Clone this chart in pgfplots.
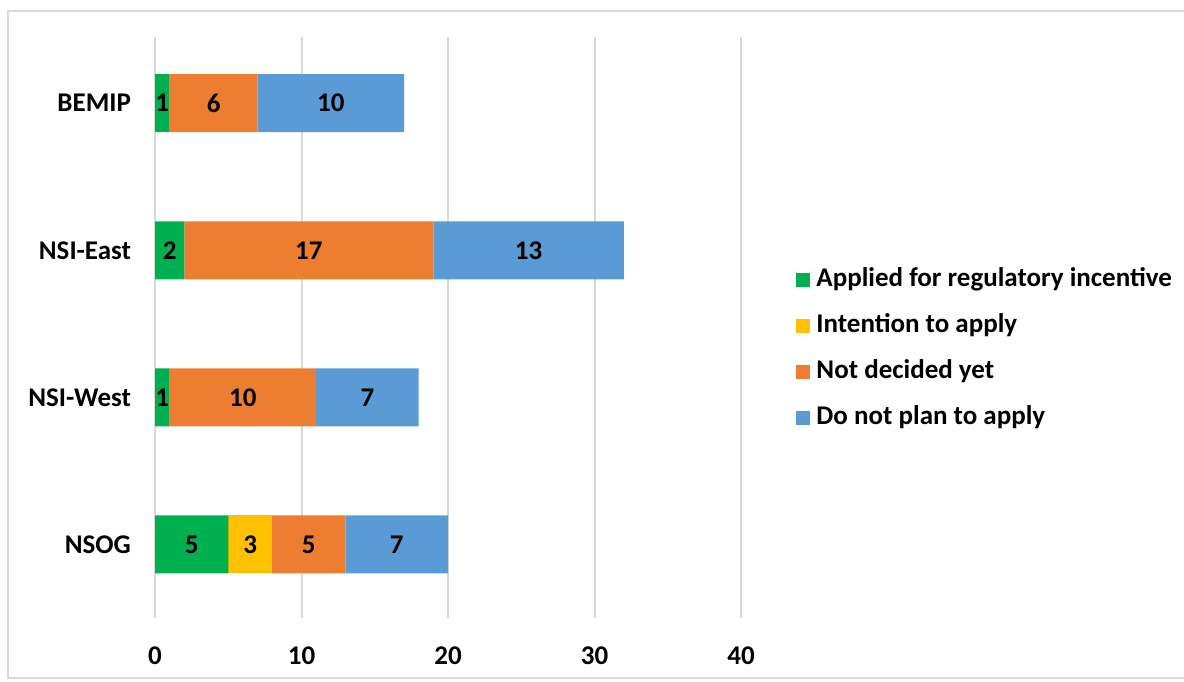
\documentclass[border=0pt]{standalone}
\usepackage{pgfplots}
\pgfplotsset{compat=1.18}
\usepackage{pgfplotstable}
\usepackage{fontspec}
\setmainfont{Carlito}
\definecolor{cgreen}{HTML}{00B050}
\definecolor{cyellow}{HTML}{FFC000}
\definecolor{corange}{HTML}{ED7D31}
\definecolor{cblue}{HTML}{5B9BD5}
\definecolor{cgrid}{HTML}{D9D9D9}
\newcommand\f{\fontsize{13.5}{16}\selectfont\bfseries}
\pgfplotstableread{
cat applied intention notdecided donot
0 5 3 5 7
1 1 0 10 7
2 2 0 17 13
3 1 0 6 10
}\data
\begin{document}
\begin{tikzpicture}
\path[use as bounding box] (0,0) rectangle (592pt,340.5pt);
\draw[color=cgrid, line width=1.2pt] (593pt,335pt) -- (4pt,335pt) -- (4pt,1.5pt) -- (593pt,1.5pt);
\begin{axis}[
  at={(77.5pt,31.5pt)}, anchor=south west,
  scale only axis, width=293pt, height=290.5pt,
  xbar stacked, bar width=29pt,
  xmin=0, xmax=40, ymin=-0.5, ymax=3.45,
  xtick={0,10,20,30,40},
  ytick={0,1,2,3},
  yticklabels={NSOG,NSI-West,NSI-East,BEMIP},
  axis line style={draw=none},
  major tick length=0pt,
  xmajorgrids, ymajorgrids=false,
  major grid style={color=cgrid, line width=1pt},
  /pgf/number format/assume math mode=true,
  tick label style={font=\f},
  xticklabel style={yshift=-11pt},
  yticklabel style={xshift=-8.5pt},
  point meta=explicit,
  nodes near coords={\pgfmathfloatifflags{\pgfplotspointmeta}{0}{}{\pgfmathprintnumber{\pgfplotspointmeta}}},
  nodes near coords align={center},
  every node near coord/.append style={font=\f, anchor=center},
  legend style={at={(1.094,0.463)}, anchor=west, draw=none, fill=none, font=\f,
    inner sep=0pt, row sep=8pt,
    nodes={inner sep=1pt, text height=10pt, text depth=3pt, anchor=west}},
  legend cell align=left,
  legend image code/.code={\fill[#1] (0pt,-3.3pt) rectangle (6.6pt,3.3pt); \path (0pt,0pt) -- (9pt,0pt);},
]
\addplot[fill=cgreen, draw=none] table[x=applied, y=cat, meta=applied] \data;
\addplot[fill=cyellow, draw=none] table[x=intention, y=cat, meta=intention] \data;
\addplot[fill=corange, draw=none] table[x=notdecided, y=cat, meta=notdecided] \data;
\addplot[fill=cblue, draw=none] table[x=donot, y=cat, meta=donot] \data;
\legend{Applied for regulatory incentive, Intention to apply, Not decided yet, Do not plan to apply}
\end{axis}
\end{tikzpicture}
\end{document}
